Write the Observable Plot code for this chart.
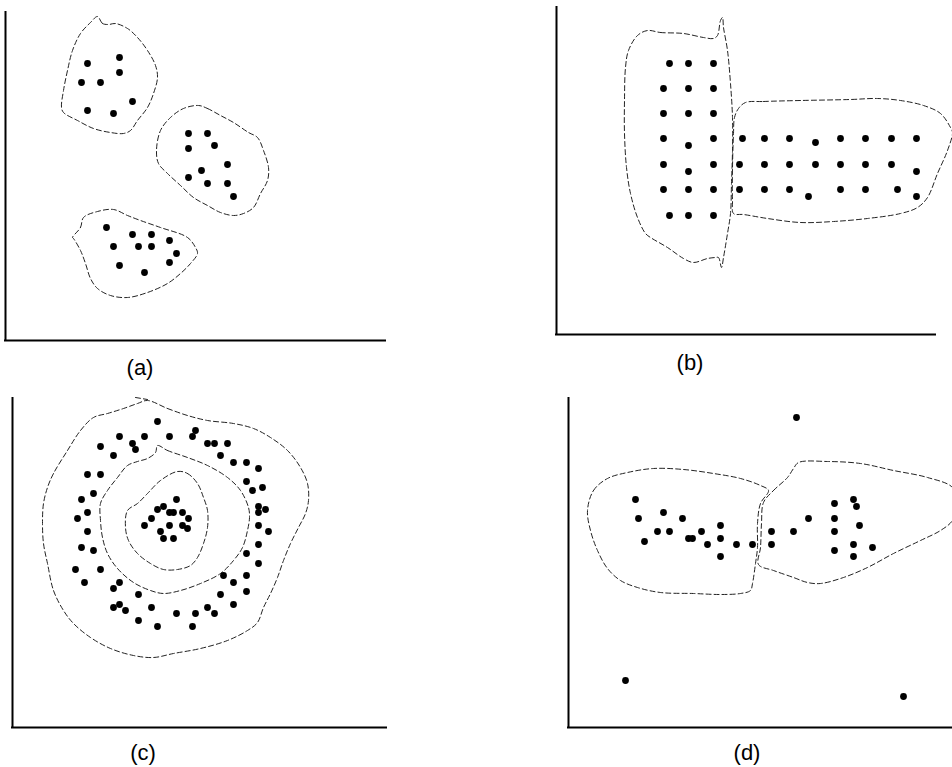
<!DOCTYPE html>
<html>
<head>
<meta charset="utf-8">
<script src="https://cdn.jsdelivr.net/npm/d3@7"></script>
<script src="https://cdn.jsdelivr.net/npm/@observablehq/plot@0.6"></script>
<style>
  html, body { margin: 0; padding: 0; background: #fff; }
  #chart { position: relative; width: 952px; height: 767px; overflow: hidden; background: #fff; }
  #chart .panel { position: absolute; }
  #chart .label { position: absolute; font-family: "Liberation Sans", Arial, Helvetica, sans-serif; font-size: 22px; color: #000; transform: translate(-50%, -50%); white-space: nowrap; }
</style>
</head>
<body>
<div id="chart"></div>
<script>
// ---------- data (panel-local units: x from the vertical axis, y up from the horizontal axis) ----------
const labels = ["(a)", "(b)", "(c)", "(d)"];

// (a) three compact clusters
const dotsA = [[82,277],[114,283],[114,268],[76,258],[95,258],[127,239],[82,230],[108,227],
  [183,207],[202,207],[183,192],[209,195],[222,176],[196,170],[183,163],[202,157],[222,157],[228,144],
  [101,113],[127,106],[146,106],[164,100],[108,94],[133,94],[146,94],[171,87],[114,75],[139,68],[164,78]];
const contourA1 = [[92,324],[97,317],[103,316],[110,317],[122,312],[132,303],[142,290],[150,275],[152,263],[148,247],
  [142,233],[132,220],[125,210],[118,207],[105,208],[88,212],[72,220],[58,228],[56,233],[58,250],[62,270],[67,290],[75,307],[85,318]];
const contourA2 = [[193,235],[202,232],[215,225],[228,218],[243,208],[252,203],[258,190],[263,173],[262,160],[255,147],
  [248,133],[238,127],[228,125],[215,128],[202,135],[188,143],[175,155],[162,167],[153,177],[151,190],[155,210],[165,223],[178,232]];
const contourA3 = [[67,103],[75,113],[78,123],[92,129],[108,131],[122,125],[135,120],[155,113],[182,103],[190,93],[192,87],
  [185,77],[175,67],[162,57],[142,48],[122,43],[105,45],[92,52],[85,62],[80,77],[75,90],[68,102]];

// (b) two rectangular grids
const dotsB = [[113,271],[132,271],[157,271],[107,246],[132,246],[157,246],[107,221],[132,221],[157,221],
  [107,196],[132,189],[157,196],[107,170],[132,163],[157,170],[107,145],[132,145],[157,145],[113,119],[132,119],[157,119],
  [186,196],[208,196],[233,196],[259,192],[284,196],[309,196],[335,196],[360,196],
  [183,170],[208,170],[233,170],[259,170],[284,170],[309,170],[335,170],[360,163],
  [183,145],[208,145],[233,145],[252,138],[284,145],[309,145],[341,145],[360,138]];
const contourB1 = [[91,304],[104,302],[127,301],[147,297],[157,296],[161,299],[164,314],[166,317],[167,307],[171,284],
  [174,251],[176,217],[176,184],[175,151],[174,121],[171,101],[167,77],[165,67],[162,77],[159,77],[151,76],[137,72],
  [127,76],[111,87],[94,97],[89,101],[81,117],[74,141],[70,167],[68,201],[68,234],[69,267],[72,284],[81,299]];
const contourB2 = [[189,232],[207,233],[244,234],[294,235],[321,236],[344,234],[367,229],[384,221],[394,207],[396,202],
  [391,184],[381,161],[371,137],[361,127],[344,121],[311,116],[277,113],[244,112],[211,116],[187,120],[177,121],
  [176,134],[176,167],[177,201],[178,217],[182,226]];

// (c) ring around a core
const dotsC = [[145,306],[107,291],[132,291],[157,291],[180,291],[183,297],[88,281],[120,284],[123,278],[101,272],
  [195,284],[202,284],[215,284],[208,272],[221,265],[234,265],[246,259],[75,253],[88,253],[234,246],[240,237],[250,240],
  [81,234],[69,228],[246,221],[253,218],[246,215],[75,215],[65,209],[246,202],[256,196],[75,196],[246,183],[69,180],
  [81,177],[234,174],[246,164],[63,158],[88,158],[72,145],[107,145],[101,139],[211,152],[221,145],[234,152],[234,136],
  [208,133],[126,133],[221,123],[101,120],[107,123],[113,117],[139,120],[195,120],[202,114],[164,114],[183,114],
  [126,107],[145,101],[180,101],
  [164,228],[151,221],[145,218],[157,215],[161,215],[170,215],[139,209],[176,209],[132,202],[157,202],[170,202],
  [175,199],[148,196],[151,189],[161,189]];
const contourC1 = [[135,327],[155,319],[175,312],[195,307],[221,304],[241,299],[258,290],[275,277],[288,260],[295,244],
  [296,227],[293,214],[286,200],[278,184],[271,167],[265,150],[258,134],[251,120],[245,105],[235,97],[215,87],[188,79],
  [161,74],[141,70],[121,72],[98,79],[78,90],[61,104],[51,117],[41,137],[35,164],[31,184],[30,204],[31,224],[35,240],
  [41,254],[55,277],[68,297],[81,310],[95,314],[111,319],[125,324]];
const hookC = [[123,330],[135,328]];
const contourC2 = [[145,282],[155,277],[175,270],[195,262],[215,250],[228,237],[236,220],[237,210],[235,197],[230,180],
  [221,167],[208,154],[188,144],[168,137],[151,134],[138,137],[121,145],[105,159],[95,174],[90,190],[88,207],[88,224],
  [95,237],[105,250],[115,262],[125,266],[135,269],[143,275]];
const contourC3 = [[165,256],[175,254],[185,244],[191,230],[195,217],[195,200],[191,184],[185,170],[178,162],[165,158],
  [151,158],[138,164],[125,174],[116,187],[113,200],[115,217],[125,224],[135,234],[148,247]];

// (d) two touching clusters plus outliers
const dotsD = [[228,310],[67,228],[70,209],[76,186],[95,215],[89,196],[101,196],[114,209],[120,189],[124,189],[133,196],
  [139,183],[152,202],[152,189],[152,171],[168,183],[184,183],[203,196],[203,183],[225,196],[240,209],[266,224],
  [266,209],[266,196],[266,177],[285,228],[288,221],[291,202],[285,183],[285,171],[304,180],[57,47],[335,31]];
const contourD1 = [[19,217],[25,237],[39,249],[59,255],[85,259],[115,258],[145,254],[172,249],[192,242],[200,237],[192,224],
  [189,204],[189,180],[187,164],[184,144],[182,137],[172,134],[152,133],[125,134],[92,135],[69,140],[52,147],[39,159],
  [29,177],[22,197]];
const contourD2 = [[195,225],[205,237],[219,250],[225,259],[230,265],[259,266],[292,264],[325,257],[359,250],[384,240],
  [389,224],[384,207],[372,197],[352,187],[325,174],[299,160],[275,150],[252,144],[239,145],[225,150],[205,157],
  [190,163],[192,180],[193,204]];

// ---------- layout ----------
const ml = 5, mt = 5, mr = 30, mb = 5;
const panels = [
  {ox: 5,   oy: 340, W: 380, H: 328, dots: dotsA, closed: [contourA1, contourA2, contourA3], open: [], lx: 140, ly: 368},
  {ox: 556, oy: 334, W: 379, H: 327, dots: dotsB, closed: [contourB1, contourB2], open: [], lx: 690, ly: 363},
  {ox: 12,  oy: 727, W: 374, H: 329, dots: dotsC, closed: [contourC1, contourC2, contourC3], open: [hookC], lx: 143, ly: 753},
  {ox: 568, oy: 727, W: 384, H: 329, dots: dotsD, closed: [contourD1, contourD2], open: [], lx: 747, ly: 753}
];

const chart = document.getElementById("chart");
const dash = {stroke: "#222", strokeWidth: 1, strokeDasharray: "5,3", fill: "none"};

panels.forEach((p, i) => {
  const svg = Plot.plot({
    width: ml + p.W + mr,
    height: mt + p.H + mb,
    marginLeft: ml, marginRight: mr, marginTop: mt, marginBottom: mb,
    x: {domain: [0, p.W], axis: null},
    y: {domain: [0, p.H], axis: null},
    style: {background: "transparent", overflow: "visible"},
    marks: [
      ...p.closed.map(c => Plot.line(c, {x: d => d[0], y: d => d[1], curve: "catmull-rom-closed", ...dash})),
      ...p.open.map(c => Plot.line(c, {x: d => d[0], y: d => d[1], ...dash})),
      Plot.dot(p.dots, {x: d => d[0], y: d => d[1], r: 3.4, fill: "#000"}),
      Plot.ruleX([0], {stroke: "#000", strokeWidth: 2, strokeLinecap: "square"}),
      Plot.ruleY([0], {stroke: "#000", strokeWidth: 2, strokeLinecap: "square"})
    ]
  });
  svg.classList.add("panel");
  svg.style.left = (p.ox - ml) + "px";
  svg.style.top = (p.oy - p.H - mt) + "px";
  chart.appendChild(svg);

  const lab = document.createElement("div");
  lab.className = "label";
  lab.textContent = labels[i];
  lab.style.left = p.lx + "px";
  lab.style.top = p.ly + "px";
  chart.appendChild(lab);
});
</script>
</body>
</html>
